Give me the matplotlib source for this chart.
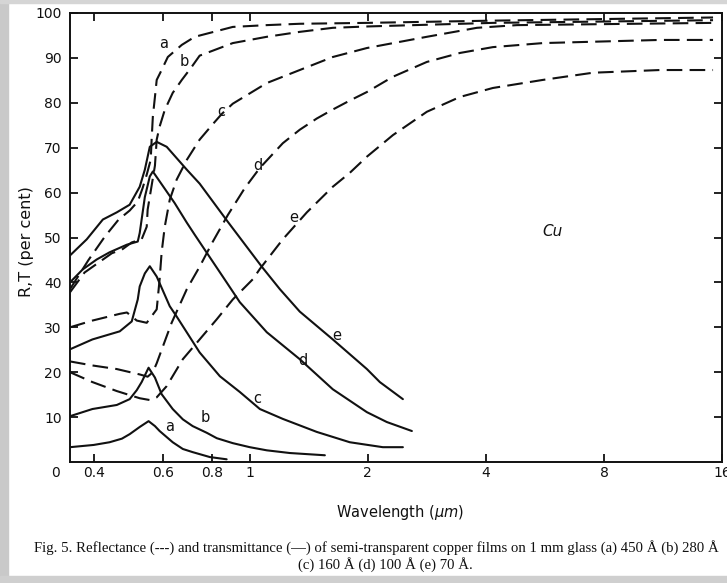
import matplotlib
matplotlib.use("Agg")
from matplotlib import pyplot as plt
from matplotlib.ticker import NullLocator
from matplotlib.patches import Rectangle

# wavelength (um) and per cent values
# transmittance (solid)
ta_x = [0.348, 0.40, 0.439, 0.472, 0.494, 0.524, 0.552, 0.573, 0.589, 0.636, 0.675, 0.715, 0.791, 0.873]
ta_y = [3.3, 3.8, 4.4, 5.2, 6.2, 7.8, 9.1, 8.0, 6.9, 4.4, 2.9, 2.2, 1.1, 0.6]

tb_x = [0.348, 0.397, 0.458, 0.494, 0.515, 0.530, 0.552, 0.573, 0.596, 0.636, 0.675, 0.715,
        0.777, 0.824, 0.905, 1.0, 1.105, 1.265, 1.554]
tb_y = [10.2, 11.8, 12.7, 14.0, 16.0, 17.8, 21.0, 18.8, 15.1, 11.8, 9.5, 8.0,
        6.5, 5.3, 4.2, 3.3, 2.6, 2.0, 1.5]

tc_x = [0.348, 0.397, 0.466, 0.500, 0.518, 0.524, 0.540, 0.556, 0.579, 0.625, 0.651, 0.745,
        0.839, 0.943, 1.061, 1.214, 1.482, 1.799, 2.184, 2.457]
tc_y = [25.1, 27.3, 29.1, 31.3, 36.2, 39.1, 42.0, 43.6, 41.3, 34.7, 32.4, 24.4,
        19.1, 15.6, 11.8, 9.6, 6.7, 4.4, 3.3, 3.3]

td_x = [0.348, 0.375, 0.407, 0.439, 0.486, 0.518, 0.524, 0.540, 0.556, 0.566, 0.643, 0.691,
        0.724, 0.777, 0.873, 0.943, 1.105, 1.341, 1.628, 1.989, 2.236, 2.590]
td_y = [40.0, 42.9, 45.1, 46.7, 48.4, 49.1, 51.0, 59.0, 63.6, 64.7, 57.7, 53.3,
        50.6, 46.6, 40.0, 35.6, 28.9, 22.9, 16.2, 11.1, 8.9, 6.9]

te_x = [0.348, 0.384, 0.422, 0.458, 0.494, 0.524, 0.540, 0.556, 0.579, 0.614, 0.691, 0.745,
        0.879, 1.073, 1.193, 1.341, 1.628, 1.989, 2.146, 2.457]
te_y = [46.0, 49.6, 54.0, 55.6, 57.3, 61.3, 65.1, 70.2, 71.3, 70.2, 65.1, 62.0,
        53.5, 43.5, 38.5, 33.5, 27.3, 20.7, 17.8, 14.0]

# reflectance (dashed)
ra_x = [0.348, 0.388, 0.427, 0.463, 0.494, 0.518, 0.533, 0.546, 0.559, 0.562, 0.566, 0.573,
        0.579, 0.596, 0.618, 0.671, 0.724, 0.905, 1.105, 1.341, 1.989, 4.167, 15.18]
ra_y = [38.5, 45.0, 50.2, 54.0, 56.0, 58.0, 61.0, 64.0, 67.3, 71.8, 76.9, 81.3,
        85.1, 87.3, 90.2, 92.9, 94.7, 96.9, 97.3, 97.6, 97.8, 98.3, 99.0]

rb_x = [0.348, 0.379, 0.445, 0.472, 0.500, 0.530, 0.546, 0.549, 0.573, 0.579, 0.589, 0.607,
        0.636, 0.671, 0.711, 0.745, 0.905, 1.105, 1.341, 1.628, 1.989, 4.167, 15.18]
rb_y = [37.8, 42.2, 46.5, 47.3, 48.9, 49.6, 52.4, 56.2, 66.0, 71.8, 74.7, 78.4,
        82.2, 85.1, 88.0, 90.5, 93.3, 94.7, 95.8, 96.7, 97.0, 97.8, 98.4]

rc_x = [0.348, 0.397, 0.466, 0.486, 0.515, 0.546, 0.579, 0.589, 0.596, 0.607, 0.625, 0.651,
        0.691, 0.745, 0.804, 0.848, 0.905, 1.105, 1.341, 1.628, 1.989, 2.828, 3.794, 4.799, 15.18]
rc_y = [30.0, 31.5, 33.0, 33.3, 31.5, 31.0, 34.0, 40.7, 46.7, 52.4, 58.4, 62.9,
        67.3, 71.8, 75.2, 77.5, 79.8, 84.4, 87.3, 90.2, 92.2, 94.7, 96.7, 97.3, 97.8]

rd_x = [0.348, 0.397, 0.458, 0.524, 0.549, 0.566, 0.579, 0.632, 0.691, 0.745, 0.804, 0.879,
        0.971, 1.061, 1.214, 1.341, 1.482, 1.628, 1.799, 1.989, 2.317, 2.828, 3.434, 4.167,
        5.591, 7.50, 11.12, 15.18]
rd_y = [22.4, 21.5, 20.7, 19.5, 19.0, 20.0, 22.0, 31.0, 38.5, 43.5, 49.0, 55.0,
        61.0, 65.5, 71.0, 74.0, 76.5, 78.5, 80.5, 82.4, 85.8, 89.1, 91.1, 92.4,
        93.3, 93.6, 94.0, 94.0]

re_x = [0.348, 0.397, 0.458, 0.524, 0.556, 0.579, 0.614, 0.675, 0.745, 0.824, 0.905, 1.018,
        1.061, 1.214, 1.398, 1.628, 1.799, 1.989, 2.317, 2.828, 3.434, 4.167, 5.591, 7.50,
        11.12, 15.18]
re_y = [20.0, 17.8, 15.8, 14.2, 13.8, 14.4, 16.9, 22.9, 27.3, 31.8, 36.2, 40.7,
        43.0, 49.6, 55.6, 61.3, 64.4, 68.0, 72.8, 78.0, 81.3, 83.3, 85.1, 86.7,
        87.3, 87.3]

# curve letters: (text, wavelength, value)
r_labels = [("a", 0.603, 93.1), ("b", 0.682, 89.1), ("c", 0.848, 78.0),
            ("d", 1.048, 66.0), ("e", 1.295, 54.4)]
t_labels = [("a", 0.625, 8.0), ("b", 0.768, 9.8), ("c", 1.042, 14.2),
            ("d", 1.366, 22.7), ("e", 1.667, 28.2)]

x_ticks = [0.4, 0.6, 0.8, 1, 2, 4, 8, 16]
x_tick_labels = ["0.4", "0.6", "0.8", "1", "2", "4", "8", "16"]
y_ticks = [10, 20, 30, 40, 50, 60, 70, 80, 90, 100]

ink = "#111111"

fig = plt.figure(figsize=(7.27, 5.83), dpi=100)
fig.patch.set_facecolor("white")

# grey scan border
fig.patches.append(Rectangle((0, 0), 8 / 727, 1, transform=fig.transFigure,
                             color="#c9c9c9", zorder=0))
fig.patches.append(Rectangle((0, 0), 1, 7 / 583, transform=fig.transFigure,
                             color="#cfcfcf", zorder=0))
fig.patches.append(Rectangle((0, 1 - 3 / 583), 1, 3 / 583, transform=fig.transFigure,
                             color="#d5d5d5", zorder=0))

ax = fig.add_axes([70 / 727, (583 - 462) / 583, (722 - 70) / 727, (462 - 13) / 583])
ax.set_xscale("log")
ax.set_xlim(0.348, 16)
ax.set_ylim(0, 100)

for xs, ys in [(ta_x, ta_y), (tb_x, tb_y), (tc_x, tc_y), (td_x, td_y), (te_x, te_y)]:
    ax.plot(xs, ys, color=ink, lw=1.5, solid_capstyle="round", solid_joinstyle="round")

for xs, ys in [(ra_x, ra_y), (rb_x, rb_y), (rc_x, rc_y), (rd_x, rd_y), (re_x, re_y)]:
    ax.plot(xs, ys, color=ink, lw=1.5, dashes=(7.5, 3.5))

for txt, x, y in r_labels + t_labels:
    ax.text(x, y, txt, fontsize=10.5, ha="center", va="center", color=ink)

ax.text(5.93, 51.3, "Cu", fontsize=11, style="italic", ha="center", va="center", color=ink)

ax.set_xticks(x_ticks)
ax.set_xticklabels(x_tick_labels)
ax.xaxis.set_minor_locator(NullLocator())
ax.set_yticks(y_ticks)
ax.tick_params(direction="in", top=True, right=True, length=6, width=1.3,
               labelsize=10, colors=ink)
ax.tick_params(axis="x", pad=3)
ax.tick_params(axis="y", pad=6)
for s in ax.spines.values():
    s.set_linewidth(1.4)
    s.set_color(ink)

fig.text(55 / 727, 1 - 473 / 583, "0", fontsize=10, ha="center", va="center", color=ink)
fig.text(27 / 727, 1 - 242 / 583, "R,T (per cent)", rotation=90, fontsize=11.5,
         ha="center", va="center", color=ink)
fig.text(400 / 727, 1 - 512 / 583, r"Wavelength ($\mu m$)", fontsize=10.5,
         ha="center", va="center", color=ink)

fig.text(376 / 727, 1 - 548 / 583,
         "Fig. 5. Reflectance (---) and transmittance (\u2014) of semi-transparent copper films "
         "on 1 mm glass (a) 450 \u00c5 (b) 280 \u00c5",
         family="Liberation Serif", fontsize=10.6, ha="center", va="center", color=ink)
fig.text(385 / 727, 1 - 565 / 583, "(c) 160 \u00c5 (d) 100 \u00c5 (e) 70 \u00c5.",
         family="Liberation Serif", fontsize=10.6, ha="center", va="center", color=ink)

fig.savefig("out.png", dpi=100)
